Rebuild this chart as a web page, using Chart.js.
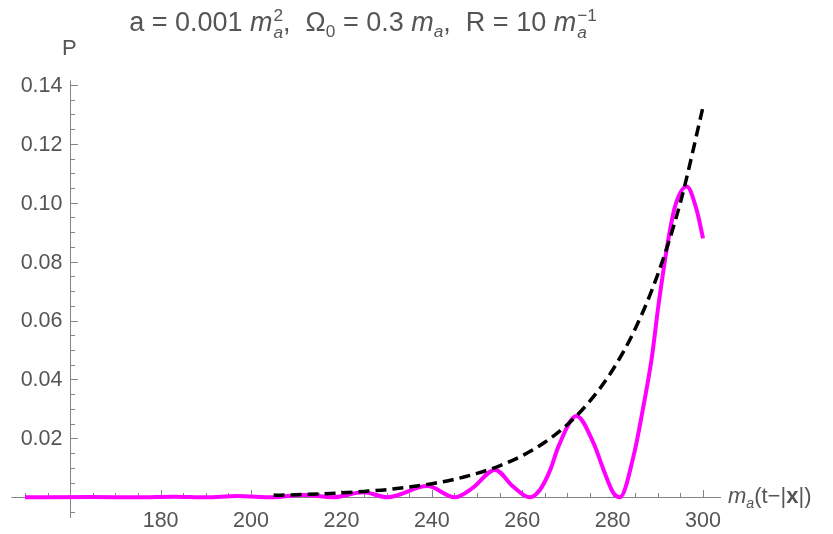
<!DOCTYPE html>
<html>
<head>
<meta charset="utf-8">
<script src="https://cdn.jsdelivr.net/npm/chart.js@4.4.1/dist/chart.umd.min.js"></script>
<style>
  html,body{margin:0;padding:0;background:#fff;}
  #wrap{position:relative;width:833px;height:534px;overflow:hidden;font-family:"Liberation Sans",Arial,sans-serif;color:#555;}
  canvas{position:absolute;left:0;top:0;}
  .lbl{position:absolute;white-space:nowrap;font-size:22px;line-height:1;}
  .ss{display:inline-block;vertical-align:-0.42em;font-size:0.64em;line-height:0.98;margin-left:1px;}
  .ss span{display:block;}
  sub{font-size:0.64em;vertical-align:-0.38em;line-height:0;}
</style>
</head>
<body>
<div id="wrap">
  <canvas id="c" width="833" height="534"></canvas>
  <div class="lbl" id="title" style="left:363px;top:7px;font-size:27px;transform:translateX(-50%);">a = 0.001 <i>m</i><span class="ss"><span>2</span><span><i>a</i></span></span>,&nbsp; Ω<sub>0</sub> = 0.3 <i>m</i><sub><i>a</i></sub>,&nbsp; R = 10 <i>m</i><span class="ss"><span>−1</span><span><i>a</i></span></span></div>
  <div class="lbl" id="ylab" style="left:62px;top:37px;font-size:22px;">P</div>
  <div class="lbl" id="xlab" style="left:728px;top:485px;font-size:22px;"><i>m</i><sub><i>a</i></sub>(t−|<b>x</b>|)</div>
</div>
<script>
// ---- data ----
const envX = [205, 210, 215, 220, 225, 230, 235, 240, 245, 250, 255, 260, 265, 270, 275, 280, 285, 290, 295, 300];
const envP = [0.00065, 0.00086, 0.00114, 0.0015, 0.0020, 0.0026, 0.0035, 0.0046, 0.0061, 0.0081, 0.0107, 0.0141, 0.0187, 0.0247, 0.0327, 0.0432, 0.0572, 0.0757, 0.1001, 0.1325];

const sigX = [150, 165, 175, 183, 190, 197, 204.9, 211.5, 218.2, 224.8, 230.2, 239.0, 245.1, 248.9, 254.0, 258.0, 261.6, 263.9, 266.2, 268.0, 272.0, 275.8, 278.0, 280.2, 281.6, 284.6, 286.8, 288.7, 290.1, 292.3, 293.8, 296.4, 298.6, 300];
const sigP = [0, 0.0001, 0, 0.0002, 0, 0.0004, 0, 0.0008, 0, 0.0017, 0, 0.0038, 0, 0.0030, 0.0093, 0.0036, 0, 0.0025, 0.0093, 0.0172, 0.0276, 0.0183, 0.0093, 0.0014, 0, 0.0138, 0.0308, 0.0477, 0.0647, 0.0873, 0.0987, 0.1055, 0.0975, 0.0879];

const xTickValues = [180, 200, 220, 240, 260, 280, 300];
const xTickLabels = ['180', '200', '220', '240', '260', '280', '300'];
const yTickValues = [0.02, 0.04, 0.06, 0.08, 0.10, 0.12, 0.14];
const yTickLabels = ['0.02', '0.04', '0.06', '0.08', '0.10', '0.12', '0.14'];

// ---- drawing ----
const AXIS = '#858585';
const TXT = '#555555';
const X_MIN = 147, X_MAX = 304, Y_MIN = -0.007, Y_MAX = 0.1415;
const Y_AXIS_AT = 160;

const axesPlugin = {
  id: 'mmaAxes',
  beforeDatasetsDraw(chart) {
    const {ctx, scales: {x, y}} = chart;
    const y0 = Math.round(y.getPixelForValue(0)) + 0.5;
    const x0 = Math.round(x.getPixelForValue(Y_AXIS_AT)) + 0.5;
    ctx.save();
    ctx.strokeStyle = AXIS;
    ctx.lineWidth = 1;
    ctx.beginPath();
    ctx.moveTo(x.getPixelForValue(X_MIN), y0);
    ctx.lineTo(x.getPixelForValue(X_MAX), y0);
    ctx.moveTo(x0, y.getPixelForValue(Y_MIN));
    ctx.lineTo(x0, y.getPixelForValue(Y_MAX));
    for (let v = 150; v <= 300; v += 5) {
      if (v === Y_AXIS_AT) continue;
      const px = Math.round(x.getPixelForValue(v)) + 0.5;
      const len = (v % 20 === 0) ? 7.5 : 4.5;
      ctx.moveTo(px, y0);
      ctx.lineTo(px, y0 - len);
    }
    for (let k = -1; k <= 28; k++) {
      if (k === 0) continue;
      const py = Math.round(y.getPixelForValue(k * 0.005)) + 0.5;
      const len = (k % 4 === 0) ? 7.5 : 4.5;
      ctx.moveTo(x0, py);
      ctx.lineTo(x0 + len, py);
    }
    ctx.stroke();
    ctx.fillStyle = TXT;
    ctx.font = '21.5px "Liberation Sans", Arial, sans-serif';
    ctx.textAlign = 'center';
    ctx.textBaseline = 'middle';
    xTickValues.forEach((v, i) => {
      ctx.fillText(xTickLabels[i], x.getPixelForValue(v), y0 + 24);
    });
    ctx.textAlign = 'right';
    yTickValues.forEach((v, i) => {
      ctx.fillText(yTickLabels[i], x0 - 8, y.getPixelForValue(v) + 1);
    });
    ctx.restore();
  }
};

new Chart(document.getElementById('c'), {
  type: 'line',
  data: {
    datasets: [
      {
        label: 'envelope',
        data: envX.map((v, i) => ({x: v, y: envP[i]})),
        borderColor: '#000000',
        borderWidth: 3.5,
        borderDash: [11, 6],
        pointRadius: 0,
        cubicInterpolationMode: 'monotone',
        fill: false,
        clip: false
      },
      {
        label: 'P',
        data: sigX.map((v, i) => ({x: v, y: sigP[i]})),
        borderColor: '#ff00ff',
        borderWidth: 4,
        pointRadius: 0,
        cubicInterpolationMode: 'monotone',
        fill: false,
        clip: false
      }
    ]
  },
  options: {
    responsive: false,
    animation: false,
    devicePixelRatio: 1,
    layout: {padding: {left: 11.44, right: 111.9, top: 80.5, bottom: 16.1}},
    scales: {
      x: {type: 'linear', min: X_MIN, max: X_MAX, display: false},
      y: {type: 'linear', min: Y_MIN, max: Y_MAX, display: false}
    },
    plugins: {legend: {display: false}, tooltip: {enabled: false}, title: {display: false}}
  },
  plugins: [axesPlugin]
});
</script>
</body>
</html>
